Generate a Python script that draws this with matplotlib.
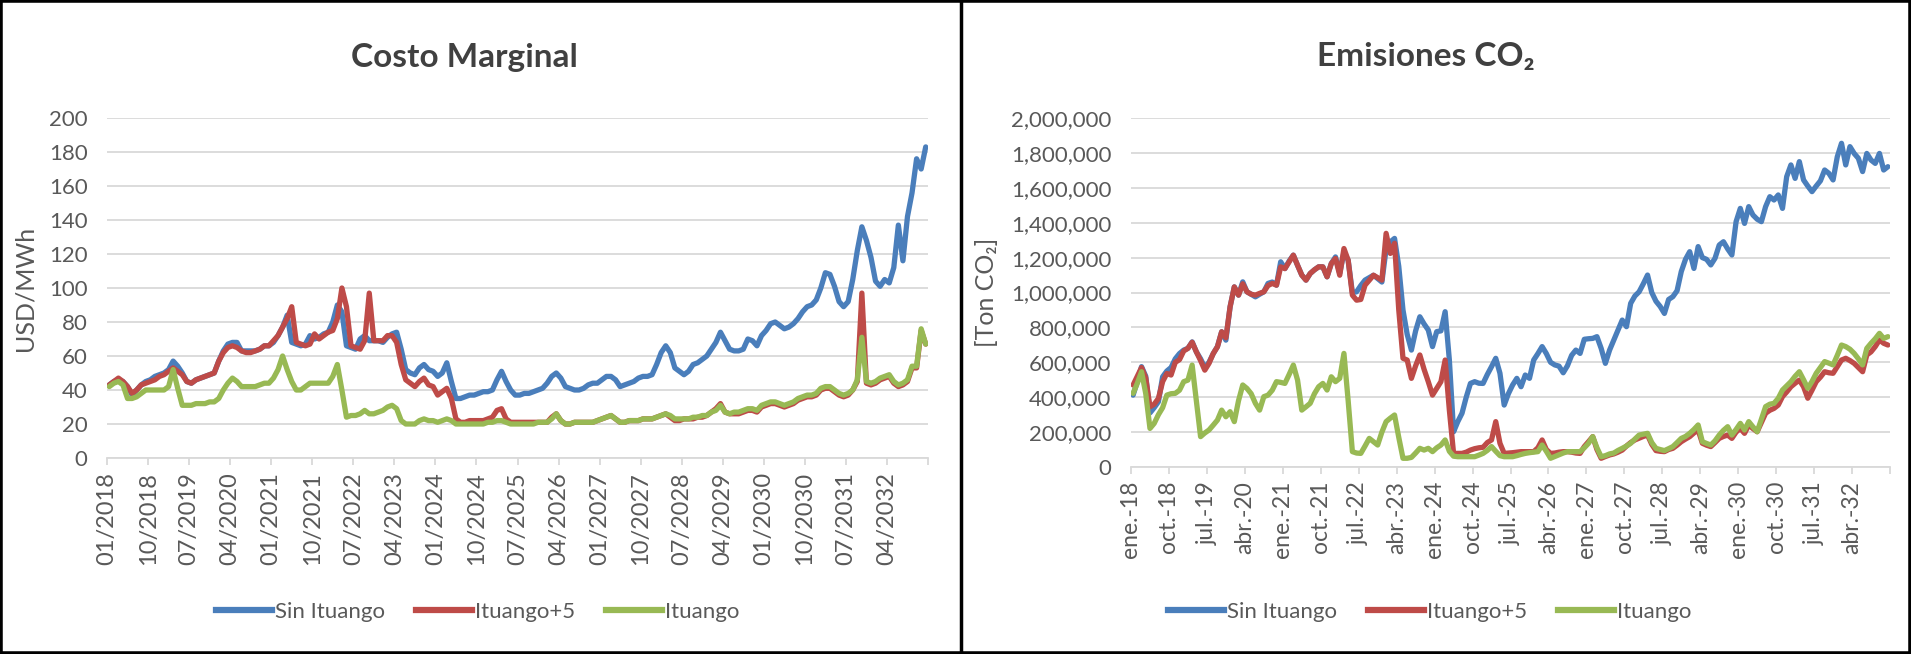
import numpy as np
import matplotlib
matplotlib.use("Agg")
import matplotlib.pyplot as plt
from matplotlib.lines import Line2D
from matplotlib.patches import Rectangle
from matplotlib.ticker import MultipleLocator, FuncFormatter

plt.rcParams['font.family'] = ['Lato', 'DejaVu Sans']

# ---- datos mensuales ene-2018 .. dic-2032 (180 meses) ----
# Costo marginal [USD/MWh]
cm_sin_ituango = [
    43, 45, 46, 45, 42, 37, 40, 43, 45, 46, 48, 49,        # 2018
    50, 52, 57, 54, 50, 45, 44, 46, 47, 48, 49, 50,        # 2019
    57, 63, 67, 68, 68, 63, 63, 63, 63, 64, 66, 66,        # 2020
    68, 72, 77, 84, 68, 67, 66, 67, 72, 70, 71, 73,        # 2021
    74, 80, 90, 86, 66, 65, 64, 70, 72, 69, 69, 69,        # 2022
    68, 71, 73, 74, 64, 52, 50, 49, 53, 55, 52, 51,        # 2023
    48, 50, 56, 45, 35, 35, 36, 37, 37, 38, 39, 39,        # 2024
    40, 46, 51, 45, 40, 37, 37, 38, 38, 39, 40, 41,        # 2025
    44, 48, 50, 47, 42, 41, 40, 40, 41, 43, 44, 44,        # 2026
    46, 48, 48, 46, 42, 43, 44, 45, 47, 48, 48, 49,        # 2027
    55, 62, 66, 62, 53, 51, 49, 51, 55, 56, 58, 60,        # 2028
    64, 68, 74, 69, 64, 63, 63, 64, 70, 69, 66, 72,        # 2029
    75, 79, 80, 78, 76, 77, 79, 82, 86, 89, 90, 93,        # 2030
    100, 109, 108, 101, 92, 89, 92, 105, 122, 136, 128, 118,   # 2031
    104, 101, 105, 103, 112, 137, 116, 142, 156, 176, 170, 183]  # 2032
cm_ituango_5 = [
    43, 45, 47, 45, 42, 38, 40, 43, 44, 45, 46, 48,
    49, 51, 53, 51, 49, 45, 44, 46, 47, 48, 49, 50,
    57, 62, 65, 66, 65, 63, 62, 62, 63, 64, 66, 66,
    69, 72, 77, 82, 89, 68, 67, 66, 67, 73, 70, 72,
    74, 75, 82, 100, 89, 66, 65, 64, 69, 97, 69, 69,
    69, 72, 72, 68, 55, 46, 44, 42, 45, 47, 43, 42,
    37, 39, 41, 35, 23, 21, 21, 22, 22, 22, 22, 23,
    24, 28, 29, 23, 21, 21, 21, 21, 21, 21, 21, 21,
    21, 24, 26, 22, 20, 20, 21, 21, 21, 21, 21, 22,
    23, 24, 25, 23, 21, 21, 22, 22, 22, 23, 23, 23,
    24, 25, 26, 24, 22, 22, 23, 23, 23, 24, 24, 25,
    27, 29, 32, 27, 26, 26, 26, 27, 28, 28, 27, 30,
    31, 32, 32, 31, 30, 31, 32, 34, 35, 36, 36, 37,
    40, 41, 41, 39, 37, 36, 37, 40, 45, 97, 44, 43,
    44, 46, 47, 48, 44, 42, 43, 45, 53, 53, 75, 67]
cm_ituango = [
    42, 44, 45, 43, 35, 35, 36, 38, 40, 40, 40, 40,
    40, 42, 52, 41, 31, 31, 31, 32, 32, 32, 33, 33,
    35, 40, 44, 47, 45, 42, 42, 42, 42, 43, 44, 44,
    47, 52, 60, 52, 45, 40, 40, 42, 44, 44, 44, 44,
    44, 48, 55, 40, 24, 25, 25, 26, 28, 26, 26, 27,
    28, 30, 31, 29, 22, 20, 20, 20, 22, 23, 22, 22,
    21, 22, 23, 22, 20, 20, 20, 20, 20, 20, 20, 21,
    21, 22, 22, 21, 20, 20, 20, 20, 20, 20, 21, 21,
    21, 23, 26, 22, 20, 20, 21, 21, 21, 21, 21, 22,
    23, 24, 25, 23, 21, 21, 22, 22, 22, 23, 23, 23,
    24, 25, 26, 25, 23, 23, 23, 23, 24, 24, 25, 25,
    27, 28, 31, 27, 26, 27, 27, 28, 29, 29, 28, 31,
    32, 33, 33, 32, 31, 32, 33, 35, 36, 37, 37, 38,
    41, 42, 42, 40, 38, 37, 38, 40, 46, 71, 45, 44,
    45, 47, 48, 49, 45, 43, 44, 46, 54, 54, 76, 67]

# Emisiones CO2 [miles de Ton CO2]
em_sin_ituango = [
    412, 490, 575, 520, 310, 340, 374, 517, 550, 570, 620, 650,
    670, 680, 717, 660, 620, 570, 600, 650, 690, 775, 727, 918,
    1032, 985, 1061, 1004, 990, 975, 990, 1004, 1052, 1060, 1042, 1176,
    1137, 1180, 1214, 1156, 1100, 1071, 1109, 1130, 1147, 1147, 1090, 1166,
    1204, 1110, 1230, 1185, 1000, 1004, 1040, 1071, 1085, 1099, 1080, 1060,
    1250, 1290, 1310, 1150, 900, 760, 670, 780, 861, 820, 785, 690,
    776, 780, 890, 613, 202, 260, 308, 400, 479, 489, 480, 479,
    530, 575, 623, 537, 355, 420, 470, 508, 460, 527, 508, 613,
    650, 690, 650, 600, 585, 578, 540, 580, 640, 670, 651, 732,
    735, 737, 747, 680, 594, 670, 728, 785, 842, 804, 938, 980,
    1004, 1050, 1100, 1000, 950, 920, 880, 960, 976, 1010, 1120, 1190,
    1234, 1138, 1263, 1200, 1190, 1158, 1196, 1272, 1291, 1250, 1215, 1406,
    1482, 1396, 1492, 1444, 1420, 1406, 1492, 1549, 1530, 1559, 1482, 1664,
    1731, 1654, 1750, 1645, 1610, 1578, 1610, 1640, 1702, 1683, 1645, 1778,
    1855, 1731, 1836, 1797, 1769, 1693, 1797, 1759, 1740, 1797, 1702, 1721]
em_ituango_5 = [
    470, 520, 570, 510, 345, 360, 393, 489, 536, 527, 600, 615,
    665, 680, 715, 660, 610, 555, 594, 650, 689, 775, 740, 918,
    1032, 985, 1050, 1004, 990, 985, 995, 1004, 1040, 1052, 1042, 1147,
    1137, 1175, 1214, 1156, 1100, 1071, 1109, 1130, 1147, 1147, 1090, 1166,
    1195, 1099, 1252, 1185, 985, 956, 960, 1042, 1070, 1099, 1085, 1071,
    1339, 1224, 1282, 900, 623, 613, 508, 580, 642, 560, 489, 412,
    450, 489, 613, 326, 78, 78, 78, 85, 97, 105, 110, 113,
    140, 155, 260, 136, 78, 80, 82, 85, 88, 88, 88, 88,
    110, 155, 100, 78, 80, 85, 88, 88, 85, 80, 78, 117,
    145, 174, 100, 50, 60, 69, 75, 85, 97, 120, 140, 155,
    165, 175, 183, 130, 94, 90, 88, 100, 107, 125, 145, 160,
    174, 195, 212, 136, 125, 117, 140, 164, 175, 183, 164, 200,
    221, 193, 241, 220, 202, 255, 308, 325, 336, 355, 403, 430,
    460, 480, 498, 460, 394, 440, 489, 515, 546, 540, 537, 575,
    613, 623, 610, 594, 570, 546, 642, 660, 690, 728, 709, 699]
em_ituango = [
    422, 480, 546, 420, 221, 250, 300, 340, 412, 420, 422, 440,
    489, 498, 584, 380, 174, 195, 212, 240, 269, 326, 288, 317,
    260, 380, 470, 450, 420, 365, 326, 403, 412, 440, 489, 485,
    479, 530, 584, 498, 326, 345, 365, 420, 460, 479, 441, 517,
    489, 508, 651, 380, 88, 80, 78, 120, 164, 145, 126, 200,
    260, 280, 298, 170, 50, 50, 55, 80, 107, 97, 107, 88,
    110, 126, 155, 90, 62, 59, 59, 59, 59, 59, 68, 78,
    95, 117, 90, 65, 59, 59, 59, 65, 72, 78, 82, 85,
    88, 126, 90, 50, 60, 70, 80, 88, 88, 88, 88, 110,
    136, 174, 110, 59, 65, 75, 80, 95, 107, 120, 136, 160,
    183, 188, 193, 140, 107, 100, 94, 105, 117, 140, 164, 175,
    193, 215, 241, 145, 135, 126, 150, 183, 210, 231, 183, 215,
    250, 212, 260, 230, 202, 275, 346, 360, 365, 394, 441, 465,
    489, 520, 546, 500, 451, 490, 537, 570, 604, 595, 585, 640,
    699, 690, 675, 651, 620, 585, 680, 709, 735, 766, 737, 747]

series_names = ['Sin Ituango', 'Ituango+5', 'Ituango']
series_colors = ['#4a7ebb', '#be4b48', '#98b954']

cm_ticklabels = ['01/2018', '10/2018', '07/2019', '04/2020', '01/2021', '10/2021',
                 '07/2022', '04/2023', '01/2024', '10/2024', '07/2025', '04/2026',
                 '01/2027', '10/2027', '07/2028', '04/2029', '01/2030', '10/2030',
                 '07/2031', '04/2032']
em_ticklabels = ['ene.-18', 'oct.-18', 'jul.-19', 'abr.-20', 'ene.-21', 'oct.-21',
                 'jul.-22', 'abr.-23', 'ene.-24', 'oct.-24', 'jul.-25', 'abr.-26',
                 'ene.-27', 'oct.-27', 'jul.-28', 'abr.-29', 'ene.-30', 'oct.-30',
                 'jul.-31', 'abr.-32']

W, H = 1911, 654
fig = plt.figure(figsize=(W / 100, H / 100), dpi=100)
fig.patch.set_facecolor('white')

ax1 = fig.add_axes([107 / W, 1 - 458 / H, (928 - 107) / W, (458 - 118) / H])
ax2 = fig.add_axes([1131 / W, 1 - 467 / H, (1890 - 1131) / W, (467 - 118) / H])

x = np.arange(180) + 0.5
grey = '#595959'


def style(ax, ymax, ystep, labels, xfs):
    ax.set_facecolor('none')
    ax.set_xlim(0, 180)
    ax.set_ylim(0, ymax)
    ax.yaxis.set_major_locator(MultipleLocator(ystep))
    ax.grid(axis='y', color='#d9d9d9', lw=1.3)
    ax.set_axisbelow(True)
    for s in ['top', 'right', 'left']:
        ax.spines[s].set_visible(False)
    ax.spines['bottom'].set_color('#d9d9d9')
    ax.spines['bottom'].set_linewidth(1.3)
    ax.set_xticks(np.arange(0, 181, 9))
    ax.set_xticklabels(labels + [''], rotation=90, fontsize=xfs, color=grey)
    ax.tick_params(axis='x', length=5, color='#d9d9d9', width=1.3, pad=5)
    ax.tick_params(axis='y', length=0, labelsize=16, labelcolor=grey, pad=14)


data1 = [cm_sin_ituango, cm_ituango_5, cm_ituango]
for vals, c in zip(data1, series_colors):
    ax1.plot(x, vals, color=c, lw=3.8, solid_joinstyle='round', solid_capstyle='round')
style(ax1, 200, 20, cm_ticklabels, 17)

data2 = [em_sin_ituango, em_ituango_5, em_ituango]
for vals, c in zip(data2, series_colors):
    ax2.plot(x, np.array(vals) * 1000, color=c, lw=3.8, solid_joinstyle='round', solid_capstyle='round')
style(ax2, 2000000, 200000, em_ticklabels, 16.5)
ax2.yaxis.set_major_formatter(FuncFormatter(lambda v, p: f'{int(v):,}'))

# titulos y ejes
fig.text(464 / W, 1 - 57 / H, 'Costo Marginal', ha='center', va='center',
         fontsize=24, fontweight='bold', color='#404040')
fig.text(1426 / W, 1 - 57 / H, 'Emisiones CO₂', ha='center', va='center',
         fontsize=24, fontweight='bold', color='#404040')
fig.text(25 / W, 1 - 288 / H, 'USD/MWh', rotation=90, ha='center', va='center',
         fontsize=18, color=grey)
fig.text(986 / W, 1 - 292 / H, '[Ton CO₂]', rotation=90, ha='center', va='center',
         fontsize=18, color=grey)

# leyendas
handles = [Line2D([], [], color=c, lw=4.5) for c in series_colors]
for cx in (478, 1430):
    fig.legend(handles, series_names, loc='center', ncol=3, frameon=False,
               bbox_to_anchor=(cx / W, 1 - 612 / H), fontsize=16,
               handlelength=2.5, handletextpad=0.15, columnspacing=1.4,
               labelcolor=grey)

# marco
fig.add_artist(Rectangle((0, 0), 1, 1, transform=fig.transFigure, fill=False,
                         ec='black', lw=4))
fig.add_artist(Line2D([960.5 / W] * 2, [0, 1], transform=fig.transFigure,
                      color='black', lw=2.5))

fig.savefig('out.png', dpi=100)
